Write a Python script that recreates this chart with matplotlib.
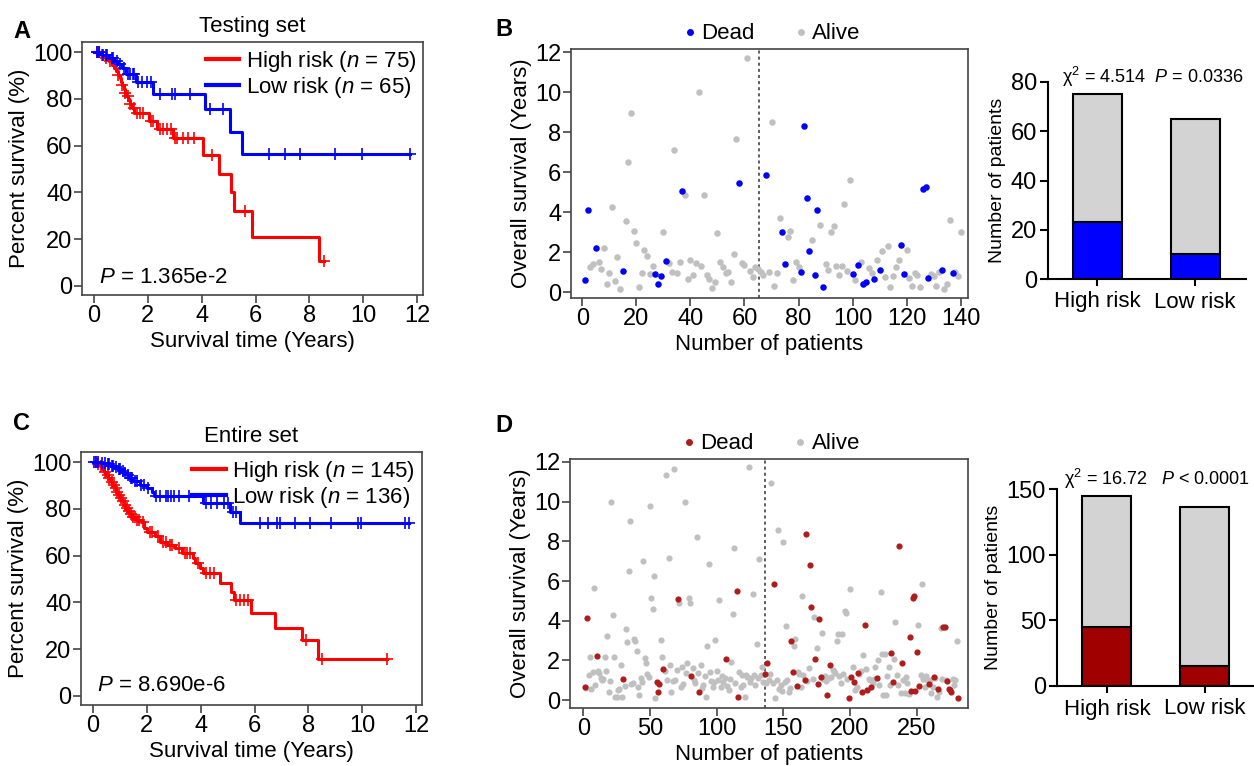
import numpy as np
import matplotlib
matplotlib.use("Agg")
import matplotlib.pyplot as plt
from matplotlib.lines import Line2D

plt.rcParams['font.family'] = ['Liberation Sans', 'DejaVu Sans']
plt.rcParams['mathtext.fontset'] = 'custom'
plt.rcParams['mathtext.rm'] = 'Liberation Sans'
plt.rcParams['mathtext.it'] = 'Liberation Sans:italic'
plt.rcParams['mathtext.bf'] = 'Liberation Sans:bold'

# ---------------- Kaplan-Meier data ----------------
# Testing set (A)
a_high_t = [0.25, 0.4, 0.55, 0.65, 0.75, 0.82, 0.88, 0.95, 1.0, 1.05, 1.1, 1.15, 1.2, 1.28, 1.35,
            1.42, 1.5, 2.05, 2.33, 2.95, 4.05, 4.65, 5.1, 5.2, 5.85, 8.35]
a_high_s = [98.7, 97.3, 96.0, 94.6, 93.2, 91.8, 90.3, 88.8, 87.3, 85.8, 84.3, 82.7, 81.1, 79.5, 77.8,
            76.0, 74.0, 70.6, 67.2, 63.2, 56.0, 48.0, 40.0, 32.0, 21.0, 10.5]
a_high_end = 8.55
a_high_cens = [0.1, 0.2, 0.3, 0.45, 0.6, 0.9, 1.05, 1.15, 1.25, 1.35, 1.47, 1.6, 1.7, 1.83, 2.1, 2.2,
               2.45, 2.58, 2.7, 2.85, 3.0, 3.1, 3.3, 3.5, 3.7, 4.4, 5.6, 8.55]
a_low_t = [0.3, 0.55, 0.75, 0.9, 1.05, 1.2, 1.56, 2.2, 4.12, 5.05, 5.5]
a_low_s = [98.9, 97.6, 96.3, 94.8, 93.2, 90.7, 87.4, 82.2, 75.6, 65.8, 56.5]
a_low_end = 11.75
a_low_cens = [0.1, 0.2, 0.35, 0.45, 0.5, 0.65, 0.7, 0.85, 0.95, 1.1, 1.25, 1.35, 1.45, 1.5, 1.65, 1.8,
              1.95, 2.1, 2.45, 2.9, 3.0, 3.55, 4.3, 4.8, 6.5, 7.1, 7.65, 8.95, 9.95, 11.75]

# Entire set (C)
c_high_t = [0.15, 0.25, 0.35, 0.42, 0.5, 0.57, 0.65, 0.72, 0.8, 0.87, 0.94, 1.0, 1.07, 1.14, 1.2, 1.28,
            1.36, 1.45, 1.62, 1.78, 1.88, 2.0, 2.3, 2.5, 2.75, 3.05, 3.3, 3.7, 3.8, 3.98, 4.1, 4.7,
            5.12, 5.22, 5.85, 6.77, 7.75, 8.37]
c_high_s = [99.3, 98.2, 97.0, 95.7, 94.4, 93.0, 91.6, 90.2, 88.8, 87.4, 86.0, 84.6, 83.2, 81.8, 80.4, 79.0,
            77.7, 76.4, 75.3, 74.2, 72.0, 70.0, 68.2, 65.8, 64.6, 63.1, 61.0, 59.0, 56.8, 54.6, 52.4, 48.4,
            44.6, 41.0, 35.6, 29.1, 23.9, 15.6]
c_high_end = 10.92
c_high_cens = [0.1, 0.2, 0.3, 0.45, 0.55, 0.6, 0.7, 0.78, 0.85, 0.9, 0.98, 1.05, 1.1, 1.18, 1.25, 1.32,
               1.4, 1.5, 1.55, 1.65, 1.7, 1.85, 2.1, 2.2, 2.4, 2.6, 2.7, 2.85, 2.95, 3.2, 3.4, 3.5, 3.6,
               3.9, 4.2, 4.35, 4.5, 5.3, 5.45, 5.6, 5.75, 7.9, 8.5, 10.92]
c_low_t = [0.3, 0.5, 0.65, 0.8, 0.92, 1.05, 1.15, 1.25, 1.35, 1.5, 1.75, 2.0, 2.18, 2.25, 4.1, 5.07, 5.47]
c_low_s = [99.6, 99.0, 98.4, 97.7, 97.0, 96.2, 95.4, 94.5, 93.3, 91.8, 90.3, 88.9, 87.2, 85.7, 82.4, 78.6, 73.9]
c_low_end = 11.75
c_low_cens = [0.05, 0.1, 0.2, 0.35, 0.45, 0.55, 0.6, 0.7, 0.75, 0.85, 0.95, 1.0, 1.1, 1.2, 1.3, 1.4, 1.45,
              1.55, 1.65, 1.8, 1.9, 2.05, 2.35, 2.5, 2.7, 2.8, 2.9, 3.0, 3.2, 3.55, 4.2, 4.4, 4.6, 4.85,
              5.0, 5.2, 5.3, 6.2, 6.5, 6.85, 6.95, 7.5, 8.05, 8.85, 9.85, 9.95, 11.6, 11.75]

# ---------------- Scatter data (B: testing set, 140 patients) ----------------
b_years = [0.62, 4.12, 1.28, 1.42, 2.22, 1.53, 1.15, 2.2, 0.43, 0.95,
           4.28, 0.58, 1.78, 0.18, 1.07, 3.57, 6.52, 8.98, 3.08, 2.47,
           0.27, 0.98, 2.13, 1.83, 0.92, 1.3, 0.93, 0.42, 0.82, 3.0,
           1.57, 1.48, 1.03, 7.13, 0.98, 1.5, 5.07, 4.85, 0.68, 1.6,
           0.87, 1.45, 10.0, 1.32, 4.85, 0.85, 0.65, 0.2, 0.52, 2.97,
           1.5, 1.27, 0.95, 1.03, 0.52, 1.93, 7.65, 5.48, 1.45, 1.35,
           11.7, 1.07, 0.75, 1.28, 1.15, 1.0, 0.85, 5.85, 1.02, 8.53,
           0.33, 0.95, 3.72, 3.0, 1.42, 2.77, 3.07, 0.6, 1.53, 1.27,
           1.02, 8.32, 4.7, 2.08, 2.62, 0.85, 4.1, 3.37, 0.28, 1.43,
           1.1, 3.0, 3.3, 1.33, 0.85, 1.3, 4.42, 1.08, 5.62, 0.93,
           0.6, 1.35, 1.5, 0.42, 0.5, 1.2, 0.98, 0.67, 1.63, 1.12,
           2.05, 0.77, 2.3, 0.27, 0.8, 1.25, 1.63, 2.37, 0.92, 2.1,
           0.72, 0.33, 0.95, 0.85, 0.25, 5.17, 5.25, 0.73, 0.92, 0.8,
           0.33, 1.02, 1.12, 0.15, 0.4, 3.62, 0.98, 1.0, 0.8, 3.0]
b_dead = [1, 1, 0, 0, 1, 0, 0, 0, 0, 0,
          0, 0, 0, 0, 1, 0, 0, 0, 0, 0,
          0, 0, 0, 0, 0, 0, 1, 1, 1, 0,
          1, 0, 0, 0, 0, 0, 1, 0, 0, 0,
          0, 0, 0, 0, 0, 0, 0, 0, 0, 0,
          0, 0, 0, 0, 0, 0, 0, 1, 0, 0,
          0, 0, 0, 0, 0, 0, 0, 1, 0, 0,
          0, 0, 0, 1, 1, 0, 0, 0, 0, 0,
          1, 1, 1, 1, 0, 1, 1, 0, 1, 0,
          0, 0, 0, 0, 0, 0, 0, 0, 0, 1,
          0, 1, 0, 1, 1, 0, 0, 1, 0, 1,
          0, 0, 0, 0, 0, 0, 0, 1, 1, 0,
          0, 0, 0, 0, 0, 1, 1, 1, 0, 0,
          0, 0, 1, 0, 0, 0, 1, 0, 0, 0]
b_cut = 65.5

# ---------------- Scatter data (D: entire set, 281 patients) ----------------
d_years = [0.64, 0.59, 4.12, 1.28, 2.15, 0.57, 1.43, 5.64, 0.76, 2.2,
           1.48, 1.38, 1.13, 1.0, 1.08, 2.19, 1.48, 3.23, 0.42, 0.96,
           10.0, 4.29, 2.19, 0.17, 0.13, 0.5, 0.56, 1.77, 0.17, 1.04,
           0.7, 3.57, 2.94, 6.53, 9.0, 0.8, 0.85, 3.1, 3.0, 2.47,
           0.64, 0.25, 1.09, 0.92, 7.0, 2.14, 1.85, 1.3, 1.15, 9.8,
           5.13, 4.6, 6.23, 0.08, 0.93, 0.39, 0.82, 3.03, 2.19, 1.58,
           1.48, 11.36, 1.01, 7.15, 1.77, 0.42, 0.95, 11.65, 1.0, 1.51,
           5.08, 4.88, 0.67, 1.68, 0.81, 10.0, 1.35, 1.85, 5.13, 4.88,
           1.21, 1.6, 1.0, 0.84, 8.21, 1.35, 0.42, 1.77, 0.59, 0.76,
           1.2, 0.17, 2.73, 6.87, 1.43, 0.96, 0.67, 0.93, 3.03, 1.48,
           1.0, 5.02, 0.67, 1.23, 0.93, 1.09, 2.05, 0.71, 0.5, 1.05,
           1.92, 4.33, 7.66, 0.84, 5.5, 0.17, 1.43, 0.67, 1.26, 0.76,
           0.17, 1.26, 1.18, 11.73, 0.93, 1.09, 5.35, 1.26, 0.76, 2.81,
           1.09, 7.1, 1.26, 1.68, 0.93, 1.3,
           0.85, 1.88, 1.01, 1.31, 10.92, 0.86, 5.86, 0.08, 1.03, 8.57,
           0.56, 0.76, 0.47, 7.98, 0.93, 3.75, 1.01, 0.42, 0.59, 3.0,
           1.4, 2.74, 3.06, 0.69, 1.43, 1.31, 0.64, 5.27, 1.25, 1.0,
           8.36, 0.98, 1.62, 6.8, 4.7, 1.04, 4.2, 2.07, 2.61, 0.82,
           4.09, 1.16, 3.37, 1.04, 1.2, 0.95, 0.25, 1.09, 1.77, 1.18,
           1.51, 1.45, 1.38, 3.0, 3.32, 1.21, 0.84, 3.32, 1.31, 4.49,
           4.41, 1.08, 0.12, 5.62, 1.18, 1.68, 0.91, 0.5, 0.64, 1.36,
           1.31, 1.48, 0.39, 2.25, 3.79, 1.55, 0.5, 1.08, 1.01, 0.67,
           0.84, 1.08, 1.65, 1.1, 2.02, 0.74, 5.44, 2.32, 0.24, 2.32,
           0.24, 1.21, 1.68, 0.74, 2.36, 0.93, 2.09, 3.94, 1.25, 0.76,
           7.76, 0.34, 1.87, 1.01, 0.34, 1.15, 0.88, 0.29, 3.16, 0.47,
           5.15, 5.22, 0.47, 2.44, 3.77, 0.71, 1.26, 5.86, 1.06, 0.64,
           1.21, 1.01, 0.81, 1.01, 0.37, 0.67, 1.14, 1.13, 0.13, 0.57,
           0.42, 3.62, 1.08, 3.7, 3.7, 1.01, 0.98, 0.57, 0.5, 0.42,
           1.04, 0.76, 1.0, 3.0, 0.12]
d_dead = [1, 0, 1, 0, 0, 0, 0, 0, 0, 1,
          0, 0, 0, 0, 0, 0, 0, 0, 0, 0,
          0, 0, 0, 0, 0, 0, 0, 0, 0, 1,
          0, 0, 0, 0, 0, 0, 0, 0, 0, 0,
          0, 0, 0, 0, 0, 0, 0, 0, 0, 0,
          0, 0, 0, 0, 1, 1, 1, 0, 0, 1,
          0, 0, 0, 0, 0, 0, 0, 0, 0, 0,
          1, 0, 0, 0, 0, 0, 0, 0, 0, 0,
          1, 0, 0, 0, 0, 0, 1, 0, 0, 0,
          0, 0, 0, 0, 0, 0, 0, 0, 0, 0,
          0, 0, 0, 0, 0, 0, 1, 0, 0, 0,
          0, 0, 0, 0, 1, 1, 0, 0, 0, 0,
          0, 0, 0, 0, 0, 0, 0, 0, 0, 0,
          0, 0, 0, 0, 0, 1,
          0, 1, 0, 0, 0, 0, 1, 0, 0, 0,
          0, 0, 0, 0, 0, 0, 0, 0, 0, 1,
          1, 0, 0, 1, 0, 0, 0, 0, 0, 1,
          1, 0, 0, 1, 1, 0, 0, 1, 0, 1,
          1, 1, 0, 0, 0, 0, 1, 0, 1, 0,
          0, 0, 0, 0, 0, 0, 0, 0, 0, 0,
          0, 0, 1, 0, 1, 0, 1, 0, 0, 1,
          0, 0, 1, 0, 1, 0, 1, 0, 0, 1,
          0, 0, 0, 1, 0, 0, 0, 0, 0, 0,
          0, 0, 0, 0, 1, 1, 0, 0, 0, 0,
          1, 0, 1, 0, 0, 0, 0, 0, 1, 1,
          1, 1, 1, 1, 0, 1, 0, 0, 0, 0,
          0, 0, 1, 0, 0, 0, 1, 0, 0, 1,
          0, 0, 0, 1, 1, 0, 1, 1, 1, 1,
          0, 0, 0, 0, 1]
d_cut = 136.5

# ---------------- Bar data ----------------
bar_groups = ["High risk", "Low risk"]
b_bar_total = [75, 65]
b_bar_dead = [23, 10]
d_bar_total = [145, 136]
d_bar_dead = [45, 15]

RED = "#ff0000"
BLUE = "#0000ff"
DARKRED = "#a00000"
DOTRED = "#b01c1c"
GRAYDOT = "#c0c0c0"
GRAYBAR = "#d3d3d3"
FRAME = "#444444"

W, H = 1254, 766
fig = plt.figure(figsize=(W / 100, H / 100), dpi=100)


def ax_px(l, t, r, b):
    return fig.add_axes([l / W, 1 - b / H, (r - l) / W, (b - t) / H])


def style_frame(ax):
    for sp in ax.spines.values():
        sp.set_color(FRAME)
        sp.set_linewidth(1.2)
    ax.tick_params(direction='out', length=5.5, width=1.2, color=FRAME, labelsize=17, pad=1.5)


def km_curve(ax, t, s, cens, end, color, label):
    t = np.asarray(t, float)
    s = np.asarray(s, float)
    x = np.r_[0.0, t, end]
    y = np.r_[100.0, s, s[-1]]
    ln, = ax.step(x, y, where='post', color=color, lw=2.2, label=label)
    levels = np.r_[100.0, s]
    idx = np.searchsorted(t, np.asarray(cens, float), side='right')
    ax.plot(cens, levels[idx], ls='none', marker='+', color=color, ms=8, mew=1.2)
    return ln


def km_panel(ax, hi, lo, title, labels, ptext, pxy):
    km_curve(ax, *hi, RED, labels[0])
    km_curve(ax, *lo, BLUE, labels[1])
    ax.set_xlim(-0.446, 12.22)
    ax.set_ylim(-3.85, 104.3)
    ax.set_xticks(range(0, 13, 2))
    ax.set_yticks(range(0, 101, 20))
    style_frame(ax)
    ax.set_xlabel("Survival time (Years)", fontsize=16, labelpad=3)
    ax.set_ylabel("Percent survival (%)", fontsize=16, labelpad=2)
    ax.set_title(title, fontsize=16, pad=7)
    leg = ax.legend(loc='upper right', bbox_to_anchor=(1.0, 1.0), frameon=False, fontsize=16,
                    handlelength=1.5, handletextpad=0.3, borderaxespad=0.1, borderpad=0.2,
                    labelspacing=0.05)
    for h in leg.get_lines():
        h.set_linewidth(3)
    ax.text(pxy[0], pxy[1], ptext, fontsize=16, ha='left', va='center')


def scatter_panel(ax, years, dead, cut, dead_color, xticks, xlim, ylim, s):
    years = np.asarray(years, float)
    dead = np.asarray(dead, bool)
    x = np.arange(1, len(years) + 1)
    ax.scatter(x[~dead], years[~dead], s=s, color=GRAYDOT, linewidths=0, zorder=2)
    ax.scatter(x[dead], years[dead], s=s, color=dead_color, linewidths=0, zorder=3)
    ax.axvline(cut, color='#333333', lw=1.1, ls=(0, (2, 2)), zorder=1)
    ax.set_xlim(*xlim)
    ax.set_ylim(*ylim)
    ax.set_xticks(xticks)
    ax.set_yticks(range(0, 13, 2))
    style_frame(ax)
    ax.set_xlabel("Number of patients", fontsize=16, labelpad=3)
    ax.set_ylabel("Overall survival (Years)", fontsize=16, labelpad=2)
    handles = [Line2D([], [], ls='none', marker='o', ms=5, color=dead_color, mew=0),
               Line2D([], [], ls='none', marker='o', ms=5, color=GRAYDOT, mew=0)]
    ax.legend(handles, ["Dead", "Alive"], loc='lower center', bbox_to_anchor=(0.5, 1.01), ncol=2,
              frameon=False, fontsize=16, handletextpad=0.0, columnspacing=1.6,
              borderaxespad=0.0, borderpad=0.1, handlelength=1.0)


def bar_panel(ax, totals, deads, dead_color, ylim, yticks, txt, txt_x, txt_y):
    totals = np.asarray(totals)
    deads = np.asarray(deads)
    x = np.arange(len(totals))
    ax.bar(x, deads, width=0.5, color=dead_color, edgecolor='black', linewidth=1.5, zorder=2)
    ax.bar(x, totals - deads, bottom=deads, width=0.5, color=GRAYBAR, edgecolor='black',
           linewidth=1.5, zorder=2)
    ax.set_ylim(*ylim)
    ax.set_yticks(yticks)
    ax.set_xticks(x)
    ax.set_xticklabels(bar_groups, fontsize=16)
    for sp in ['top', 'right']:
        ax.spines[sp].set_visible(False)
    for sp in ['left', 'bottom']:
        ax.spines[sp].set_linewidth(1.5)
        ax.spines[sp].set_color('black')
    ax.tick_params(axis='y', direction='out', length=6, width=1.5, labelsize=17, pad=2)
    ax.tick_params(axis='x', direction='out', length=5, width=1.5, labelsize=16, pad=4)
    ax.set_ylabel("Number of patients", fontsize=14, labelpad=3)
    ax.text(txt_x, txt_y, txt, transform=ax.transAxes, fontsize=13, ha='left', va='center',
            clip_on=False)


# Panel A
axA = ax_px(82, 42, 423, 295)
km_panel(axA, (a_high_t, a_high_s, a_high_cens, a_high_end), (a_low_t, a_low_s, a_low_cens, a_low_end),
         "Testing set", ["High risk ($n$ = 75)", "Low risk ($n$ = 65)"], "$P$ = 1.365e-2", (0.2, 3.5))

# Panel C
axC = ax_px(81, 452, 422, 705)
km_panel(axC, (c_high_t, c_high_s, c_high_cens, c_high_end), (c_low_t, c_low_s, c_low_cens, c_low_end),
         "Entire set", ["High risk ($n$ = 145)", "Low risk ($n$ = 136)"], "$P$ = 8.690e-6", (0.15, 4.3))

# Panel B
axB = ax_px(571, 49, 968, 298)
scatter_panel(axB, b_years, b_dead, b_cut, BLUE, range(0, 141, 20), (-4.19, 142.7), (-0.28, 12.17), 22)

# Panel D
axD = ax_px(570, 459, 968, 708)
scatter_panel(axD, d_years, d_dead, d_cut, DOTRED, range(0, 251, 50), (-9.98, 288.5), (-0.40, 12.15), 20)

# Bars
axBb = ax_px(1048, 82, 1246, 279)
axBb.set_xlim(-0.5, 1.52)
bar_panel(axBb, b_bar_total, b_bar_dead, BLUE, (0, 80), range(0, 81, 20),
          "\u03c7$^2$ = 4.514  $P$ = 0.0336", 0.07, 1.025)

axDb = ax_px(1057, 489, 1254, 686)
axDb.set_xlim(-0.51, 1.5)
bar_panel(axDb, d_bar_total, d_bar_dead, DARKRED, (0, 150), range(0, 151, 50),
          "\u03c7$^2$ = 16.72   $P$ < 0.0001", 0.035, 1.05)

# Panel letters
for letter, (px, py) in {"A": (22, 31), "B": (504, 30), "C": (22, 424), "D": (504, 425)}.items():
    fig.text(px / W, 1 - py / H, letter, fontsize=17, fontweight='bold', ha='center', va='center')

fig.savefig("out.png", dpi=100)
